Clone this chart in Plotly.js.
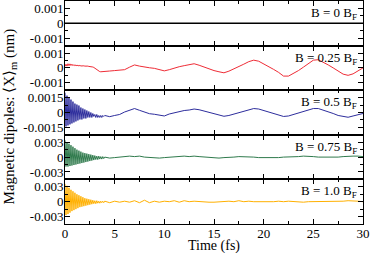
<!DOCTYPE html>
<html>
<head>
<meta charset="utf-8">
<script src="https://cdn.plot.ly/plotly-3.0.1.min.js"></script>
<style>html,body{margin:0;padding:0;background:#fff;}#chart{width:370px;height:253px;}</style>
</head>
<body>
<div id="chart"></div>
<script>
// time grids (fs)
var tFast = [0,0.1,0.2,0.3,0.4,0.5,0.6,0.7,0.8,0.9,1.0,1.1,1.2,1.3,1.4,1.5,1.6,1.7,1.8,1.9,2.0,
             2.1,2.2,2.3,2.4,2.5,2.6,2.7,2.8,2.9,3.0,3.1,3.2,3.3,3.4,3.5,3.6,3.7,3.8,3.9,4.0];
var tSlow = [4.5,5,5.5,6,6.5,7,7.5,8,8.5,9,9.5,10,10.5,11,11.5,12,12.5,13,13.5,14,14.5,15,15.5,16,16.5,
             17,17.5,18,18.5,19,19.5,20,20.5,21,21.5,22,22.5,23,23.5,24,24.5,25,25.5,26,26.5,27,27.5,
             28,28.5,29,29.5,30];

var panelLabels = ["B = 0 B<sub>F</sub>", "B = 0.25 B<sub>F</sub>", "B = 0.5 B<sub>F</sub>", "B = 0.75 B<sub>F</sub>", "B = 1.0 B<sub>F</sub>"];

var tZero = [0, 30];
var yB0 = [0, 0];

var yB025fast = [0.00010,0.00025,0.00012,0.00028,0.00015,0.00027,0.00016,0.00025,0.00015,0.00022,0.00014,
  0.00020,0.00014,0.00018,0.00013,0.00017,0.00013,0.00015,0.00012,0.00014,0.00012,0.00013,0.00011,0.00012,
  0.00010,0.00010,0.00009,0.00008,0.00006,0.00003,-0.00002,-0.00008,-0.00014,-0.00019,-0.00023,-0.00025,
  -0.00026,-0.00026,-0.00025,-0.00024,-0.00023];
var yB025slow = [-0.00021,-0.00018,-0.00015,-0.00012,0.00005,0.00020,0.00012,0.00005,0.00001,-0.00003,-0.00010,
  -0.00020,-0.00012,0.00000,0.00008,0.00015,0.00022,0.00028,0.00018,0.00005,-0.00008,-0.00018,-0.00026,-0.00033,
  -0.00022,-0.00008,0.00008,0.00025,0.00042,0.00052,0.00045,0.00028,0.00010,-0.00010,-0.00030,-0.00055,-0.00055,
  -0.00038,-0.00018,0.00005,0.00028,0.00052,0.00055,0.00040,0.00020,0.00000,-0.00022,-0.00042,-0.00050,-0.00040,
  -0.00020,0.00000];

var yB05fast = [0.0020,-0.0014,0.0017,-0.0013,0.0015,-0.0012,0.0013,-0.0011,0.0011,-0.0010,0.0009,-0.0009,
  0.0008,-0.0008,0.0007,-0.0007,0.0005,-0.0007,0.0004,-0.0006,0.0003,-0.0006,0.0002,-0.0005,0.0001,-0.0005,
  0.0000,-0.0005,-0.0001,-0.0004,-0.0002,-0.0005,-0.0002,-0.0005,-0.0003,-0.0005,-0.0003,-0.0005,-0.0003,
  -0.0004,-0.0003];
var yB05slow = [-0.00042,-0.00030,-0.00020,0.00005,0.00025,0.00040,0.00022,0.00008,-0.00012,-0.00018,-0.00030,
  -0.00035,-0.00015,-0.00002,0.00010,0.00020,0.00025,0.00035,0.00028,0.00015,0.00002,-0.00012,-0.00025,-0.00038,
  -0.00030,-0.00015,0.00000,0.00015,0.00030,0.00040,0.00035,0.00020,0.00005,-0.00012,-0.00028,-0.00040,-0.00035,
  -0.00020,-0.00002,0.00015,0.00030,0.00040,0.00040,0.00025,0.00008,-0.00010,-0.00030,-0.00042,-0.00048,-0.00035,
  -0.00020,-0.00010];

var yB075fast = [0.0034,-0.0019,0.0030,-0.0019,0.0027,-0.0018,0.0024,-0.0017,0.0021,-0.0016,0.0018,-0.0015,
  0.0015,-0.0014,0.0013,-0.0013,0.0011,-0.0012,0.0009,-0.0011,0.0008,-0.0010,0.0007,-0.0009,0.0006,-0.0008,
  0.0005,-0.0007,0.0004,-0.0006,0.0003,-0.0005,0.0002,-0.0005,0.0002,-0.0004,0.0001,-0.0004,0.0001,-0.0003,0.0000];
var yB075slow = [-0.0002,-0.0001,0.0000,0.0001,0.0002,0.0001,0.0002,0.0000,-0.0001,-0.0001,-0.0002,-0.0001,
  0.0000,0.0001,0.0001,0.0002,0.0001,0.0002,0.0001,0.0000,-0.0001,-0.0001,-0.0002,-0.0001,-0.0001,0.0000,0.0001,
  0.0001,0.0001,0.0000,-0.0001,-0.0001,-0.0002,-0.0001,-0.0001,0.0000,0.0000,0.0001,0.0001,0.0002,0.0002,0.0001,
  0.0000,0.0000,-0.0001,-0.0001,0.0000,0.0001,0.0002,0.0002,0.0002,0.0001];

var yB10fast = [0.0036,-0.0027,0.0032,-0.0025,0.0028,-0.0022,0.0024,-0.0019,0.0021,-0.0017,0.0018,-0.0015,
  0.0015,-0.0013,0.0013,-0.0011,0.0011,-0.0010,0.0009,-0.0009,0.0007,-0.0008,0.0006,-0.0007,0.0005,-0.0006,
  0.0004,-0.0005,0.0003,-0.0004,0.0002,-0.0004,0.0002,-0.0003,0.0001,-0.0003,0.0001,-0.0002,0.0001,-0.0002,0.0001];
var yB10slow = [-0.0002,0.0001,-0.0001,0.0001,-0.0001,0.0002,-0.0002,0.0003,-0.0002,0.0001,-0.0001,0.0001,
  0.0000,0.0002,-0.0001,0.0002,0.0000,0.0001,0.0000,0.0000,-0.0001,-0.0001,0.0000,0.0000,0.0001,0.0000,0.0002,
  0.0000,0.0001,0.0000,0.0000,-0.0001,0.0000,0.0000,0.0001,0.0000,0.0001,0.0000,0.0000,-0.0001,0.0000,0.0000,
  0.0000,0.0000,0.0001,0.0000,0.0001,0.0001,0.0002,0.0002,0.0001,0.0000];

var yTickVals = [[-0.001,0,0.001],[-0.001,0,0.001],[-0.0015,0,0.0015],[-0.003,0,0.003],[-0.003,0,0.003]];
var yTickText = [["-0.001","0","0.001"],["-0.001","0","0.001"],["-0.0015","0","0.0015"],["-0.003","0","0.003"],["-0.003","0","0.003"]];
var yMinorStep = [0.0005, 0.0005, 0.00075, 0.0015, 0.0015];
var yRanges = [[-0.0015,0.0015],[-0.0015,0.0015],[-0.00225,0.00225],[-0.0045,0.0045],[-0.0045,0.0045]];
var yDomains = [[0.8,1],[0.6,0.8],[0.4,0.6],[0.2,0.4],[0,0.2]];
var xTickVals = [0,5,10,15,20,25,30];
var xTickText = ["0","5","10","15","20","25","30"];

var colors = ["#000000","#ee2c36","#2d2d9c","#2f7a4c","#ffb000"];
var widths = [1.5,1,1,1,1];

var series = [
  {x: tZero, y: yB0},
  {x: tFast.concat(tSlow), y: yB025fast.concat(yB025slow)},
  {x: tFast.concat(tSlow), y: yB05fast.concat(yB05slow)},
  {x: tFast.concat(tSlow), y: yB075fast.concat(yB075slow)},
  {x: tFast.concat(tSlow), y: yB10fast.concat(yB10slow)}
];

var font = "Liberation Serif";
var data = [];
var layout = {
  width: 370, height: 253,
  margin: {l: 65, r: 7, t: 1, b: 29},
  paper_bgcolor: "#fff", plot_bgcolor: "#fff",
  showlegend: false,
  font: {family: font, size: 13, color: "#000"},
  annotations: []
};

for (var i = 0; i < 5; i++) {
  var n = i + 1;
  var xs = n === 1 ? "x" : "x" + n;
  var ys = n === 1 ? "y" : "y" + n;
  data.push({
    type: "scatter", mode: "lines",
    x: series[i].x, y: series[i].y,
    xaxis: xs, yaxis: ys,
    line: {color: colors[i], width: widths[i]},
    hoverinfo: "skip"
  });
  var xa = {
    domain: [0, 1], range: [0, 30], anchor: ys,
    showline: true, linecolor: "#000", linewidth: 1, mirror: "allticks",
    ticks: "inside", ticklen: 5, tickwidth: 1, tickcolor: "#000",
    tickmode: "array", tickvals: xTickVals, ticktext: xTickText,
    minor: {ticks: "inside", ticklen: 3, tickwidth: 1, tickcolor: "#000", dtick: 2.5, tick0: 0},
    showgrid: false, zeroline: false,
    showticklabels: n === 5,
    ticklabelstandoff: -3,
    tickfont: {family: font, size: 13, color: "#000"}
  };
  var ya = {
    domain: yDomains[i], range: yRanges[i], anchor: xs,
    showline: true, linecolor: "#000", linewidth: 1, mirror: "allticks",
    ticks: "inside", ticklen: 5, tickwidth: 1, tickcolor: "#000",
    tickmode: "array", tickvals: yTickVals[i], ticktext: yTickText[i],
    minor: {ticks: "inside", ticklen: 3, tickwidth: 1, tickcolor: "#000", dtick: yMinorStep[i], tick0: 0},
    showgrid: false, zeroline: false,
    ticklabelstandoff: -2,
    tickfont: {family: font, size: 13, color: "#000"}
  };
  layout[n === 1 ? "xaxis" : "xaxis" + n] = xa;
  layout[n === 1 ? "yaxis" : "yaxis" + n] = ya;
  layout.annotations.push({
    text: panelLabels[i], showarrow: false,
    xref: "paper", yref: "paper",
    x: 0.985, y: yDomains[i][0] + 0.72 * (yDomains[i][1] - yDomains[i][0]),
    xanchor: "right", yanchor: "middle",
    font: {family: font, size: 13, color: "#000"}
  });
}

layout.annotations.push({
  text: "Magnetic dipoles: \u27E8X\u27E9<sub>m</sub> (nm)", showarrow: false,
  xref: "paper", yref: "paper", x: -0.185, y: 0.482,
  xanchor: "center", yanchor: "middle", textangle: -90,
  font: {family: font, size: 15, color: "#000"}
});
layout.annotations.push({
  text: "Time (fs)", showarrow: false,
  xref: "paper", yref: "paper", x: 0.5, y: -0.1,
  xanchor: "center", yanchor: "middle",
  font: {family: font, size: 14, color: "#000"}
});

Plotly.newPlot("chart", data, layout, {displayModeBar: false, staticPlot: true});
</script>
</body>
</html>
